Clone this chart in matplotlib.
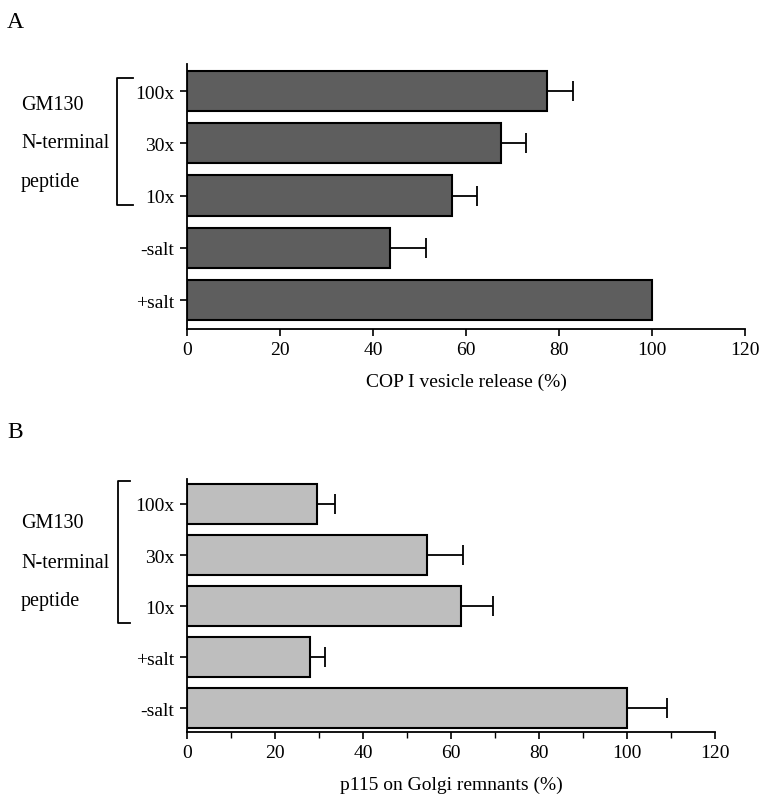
import numpy as np
import matplotlib
matplotlib.use("Agg")
import matplotlib.pyplot as plt

plt.rcParams['font.family'] = ['Liberation Serif', 'DejaVu Serif']

# panel A data (top to bottom)
labels_a = ["100x", "30x", "10x", "-salt", "+salt"]
values_a = [77.5, 67.5, 57.0, 43.7, 100.0]
errors_a = [5.6, 5.5, 5.4, 7.7, 0.0]

# panel B data (top to bottom)
labels_b = ["100x", "30x", "10x", "+salt", "-salt"]
values_b = [29.6, 54.5, 62.2, 28.0, 100.0]
errors_b = [4.1, 8.2, 7.4, 3.3, 9.0]

xticks = [0, 20, 40, 60, 80, 100, 120]

fig = plt.figure(figsize=(7.62, 8.03), dpi=100)
fs = 14


def draw_panel(ax, labels, values, errors, color, xlabel, ylim, minor):
    n = len(labels)
    pos = np.arange(n)[::-1]
    ax.barh(pos, values, height=0.77, color=color, edgecolor="black", linewidth=1.5, zorder=2)
    for p, v, e in zip(pos, values, errors):
        if e > 0:
            ax.errorbar(v, p, xerr=[[0], [e]], fmt="none", ecolor="black",
                        elinewidth=1.3, capsize=7, capthick=1.3, zorder=1)
    ax.set_yticks(pos)
    ax.set_yticklabels(labels, fontsize=fs)
    ax.set_xticks(xticks)
    ax.set_xticklabels([str(t) for t in xticks], fontsize=fs)
    if minor:
        ax.set_xticks(np.arange(10, 120, 20), minor=True)
    ax.set_xlim(0, 120)
    ax.set_ylim(*ylim)
    ax.spines["top"].set_visible(False)
    ax.spines["right"].set_visible(False)
    ax.spines["left"].set_linewidth(1.3)
    ax.spines["bottom"].set_linewidth(1.3)
    ax.tick_params(axis="both", direction="out", length=5, width=1.2, pad=4)
    ax.tick_params(axis="x", which="minor", length=4, width=1.0)
    ax.set_xlabel(xlabel, fontsize=fs, labelpad=10)


ax_a = fig.add_axes([187/762, 1-330/803, 558/762, 265/803])
draw_panel(ax_a, labels_a, values_a, errors_a, "#5e5e5e", "COP I vesicle release (%)", (-0.555, 4.517), False)

ax_b = fig.add_axes([187/762, 1-733/803, 528/762, 253/803])
draw_panel(ax_b, labels_b, values_b, errors_b, "#bebebe", "p115 on Golgi remnants (%)", (-0.47, 4.49), True)

# brackets and group labels (figure pixel coords)
def px(x, y):
    return x/762, 1-y/803

for top, bot, xb, xs, ys in [(79, 206, 117, 133, (106, 144, 182)), (482, 624, 118, 130, (523, 563, 602))]:
    xs0, yt = px(xb, top)
    _, yb = px(xb, bot)
    xe, _ = px(xs, top)
    fig.add_artist(plt.Line2D([xe, xs0, xs0, xe], [yt, yt, yb, yb], color="black", lw=1.3))
    for txt, yy in zip(["GM130", "N-terminal", "peptide"], ys):
        fig.text(21/762, 1-yy/803, txt, fontsize=fs + 0.5, ha="left", va="center")

fig.text(7/762, 1-22/803, "A", fontsize=17, ha="left", va="center")
fig.text(7/762, 1-433/803, "B", fontsize=17, ha="left", va="center")

fig.savefig("out.png", dpi=100, facecolor="white")
